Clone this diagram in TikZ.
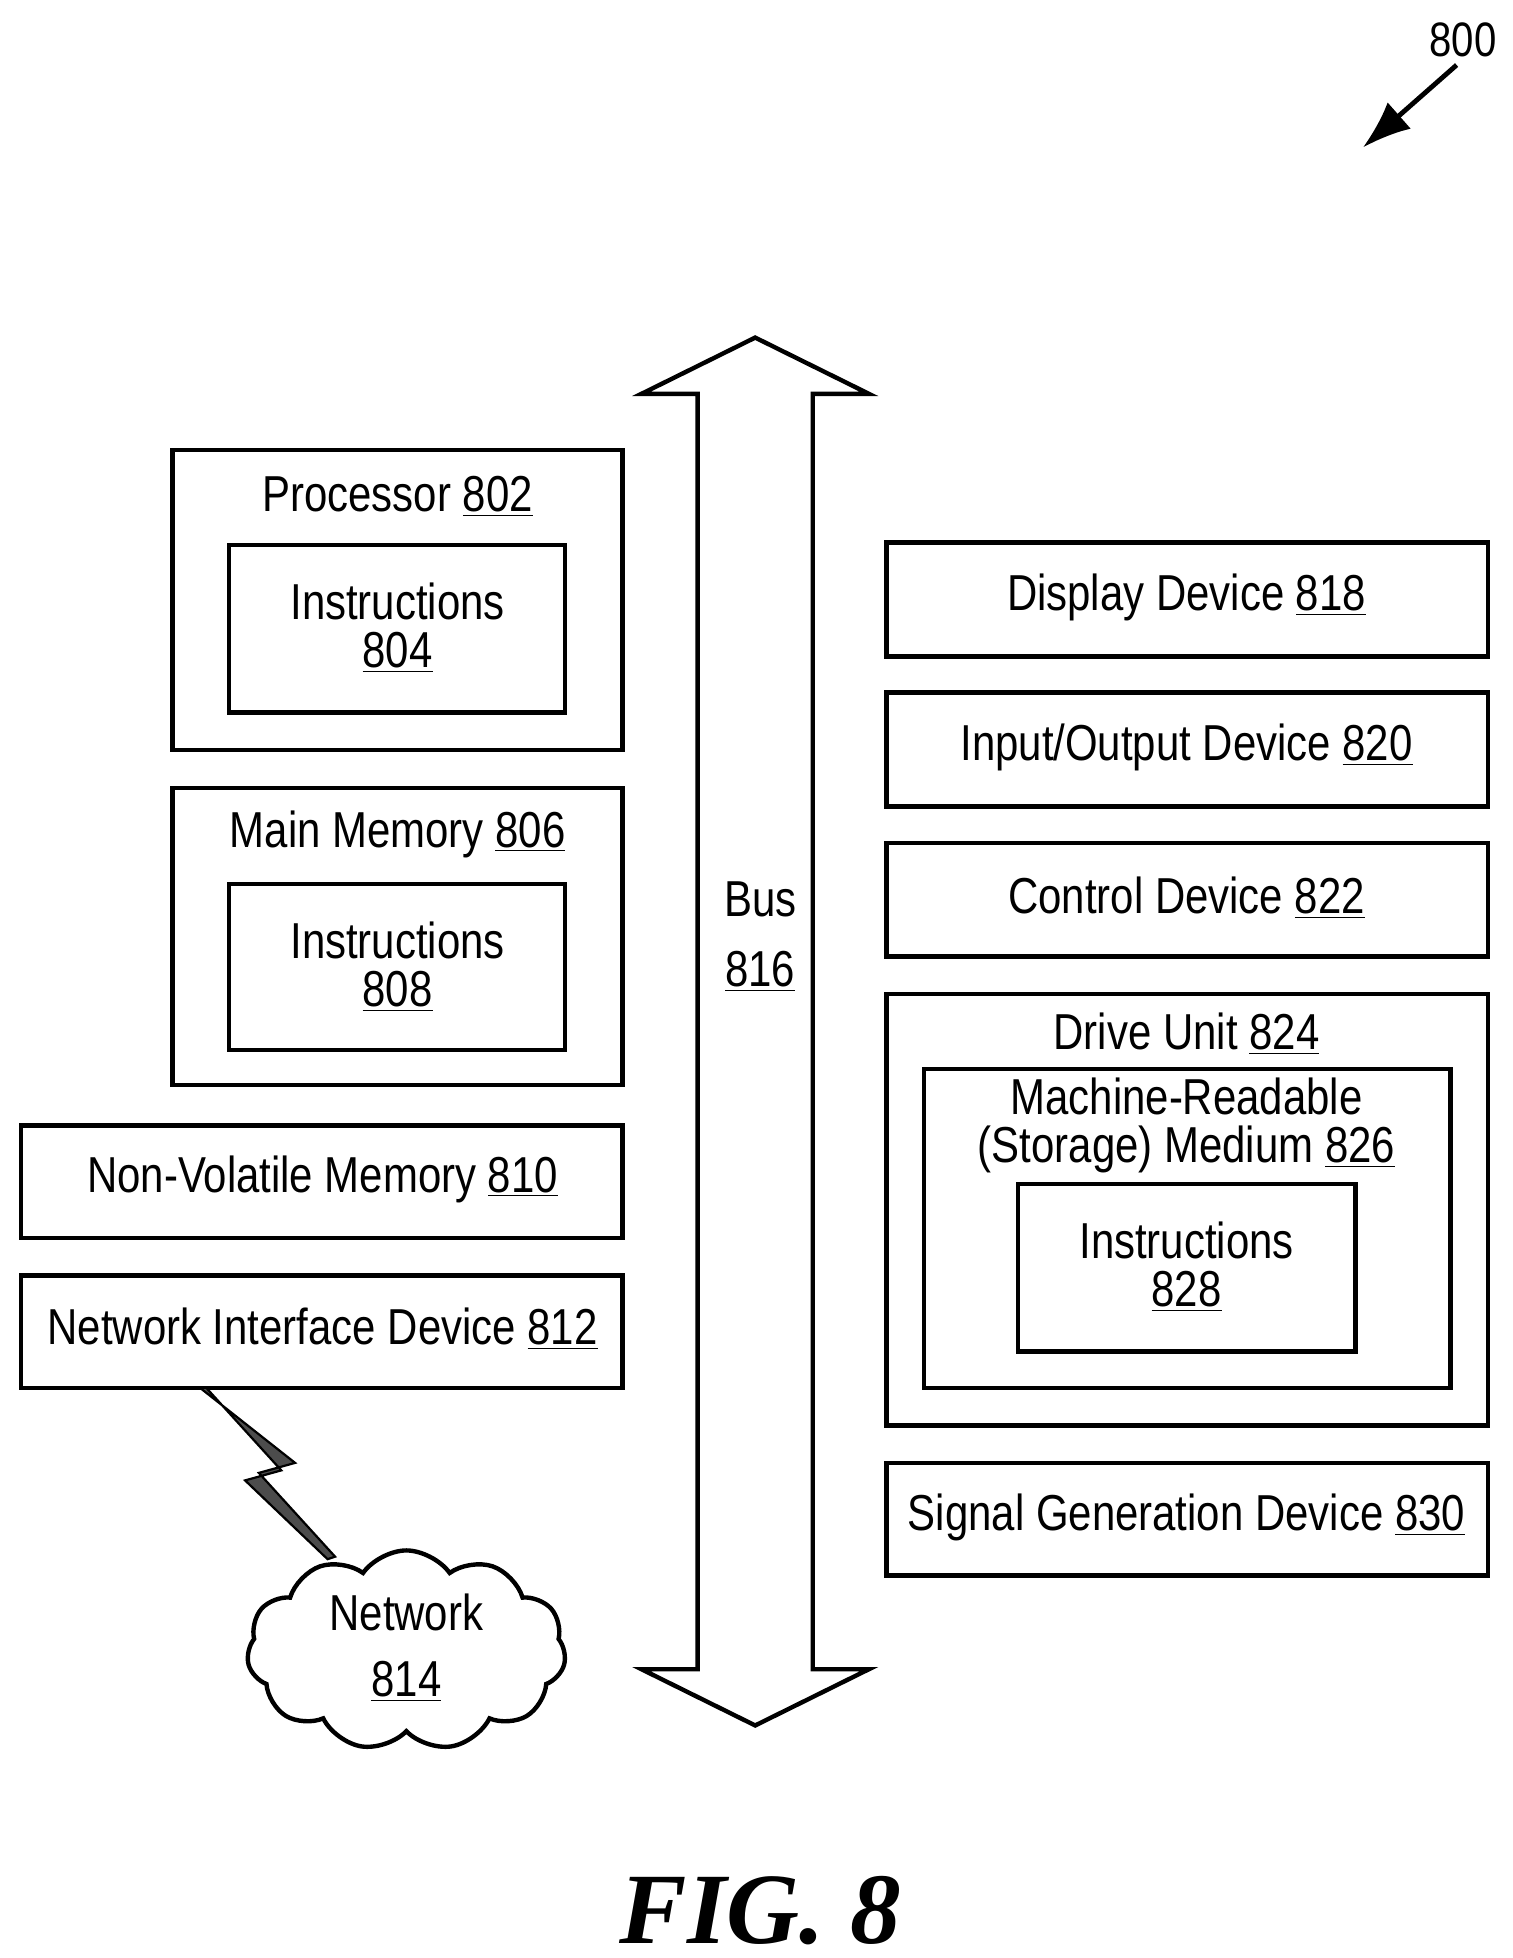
\documentclass[tikz,border=0pt]{standalone}
\usepackage{fontspec}
\setmainfont{Liberation Sans}[FakeStretch=0.83]
\newfontfamily\figfont{Liberation Serif}
\usetikzlibrary{shapes.symbols,arrows.meta}
\newcommand{\un}[1]{\underline{#1}}
\begin{document}
\begin{tikzpicture}[x=0.02cm,y=-0.02cm,
  box/.style={draw,line width=2pt},
  lbl/.style={font=\fontsize{23}{26}\selectfont,align=center,inner sep=0pt}]
\useasboundingbox (0,0) rectangle (1210,1566);
% left
\draw[box] (138,360) rectangle (498,600);
\draw[box] (183,436) rectangle (452,570);
\node[lbl] (p) at (318,397) {Processor \un{802}};
\node[lbl] (i1) at (318,502) {Instructions\\[-4pt]\un{804}};
\draw[box] (138,630) rectangle (498,868);
\draw[box] (183,707) rectangle (452,840);
\node[lbl] (m) at (318,667) {Main Memory \un{806}};
\node[lbl] (i2) at (318,773) {Instructions\\[-4pt]\un{808}};
\draw[box] (17,900) rectangle (498,990);
\node[lbl] (nv) at (258,943) {Non-Volatile Memory \un{810}};
\draw[box] (17,1020) rectangle (498,1110);
\node[lbl] (ni) at (258,1063) {Network Interface Device \un{812}};
% right
\draw[box] (709,434) rectangle (1190,525);
\node[lbl] (dd) at (949,478) {Display Device \un{818}};
\draw[box] (709,554) rectangle (1190,645);
\node[lbl] (io) at (949,598) {Input/Output Device \un{820}};
\draw[box] (709,674) rectangle (1190,765);
\node[lbl] (cd) at (949,718) {Control Device \un{822}};
\draw[box] (709,795) rectangle (1190,1140);
\draw[box] (739,855) rectangle (1160,1110);
\draw[box] (814,947) rectangle (1084,1081);
\node[lbl] (du) at (949,827) {Drive Unit \un{824}};
\node[lbl] (mr) at (949,900) {Machine-Readable\\[-4pt](Storage) Medium \un{826}};
\node[lbl] (i3) at (949,1013) {Instructions\\[-4pt]\un{828}};
\draw[box] (709,1170) rectangle (1190,1260);
\node[lbl] (sg) at (949,1214) {Signal Generation Device \un{830}};
% bus
\draw[line width=2pt,line join=miter] (604,270) -- (695,315) -- (650,315) -- (650,1335) -- (695,1335) -- (604,1380) -- (513,1335) -- (558,1335) -- (558,315) -- (513,315) -- cycle;
\node[lbl] (bus) at (608,749) {Bus\\[6pt]\un{816}};
% network
\node[cloud,draw,line width=2pt,cloud puffs=11,cloud puff arc=110,aspect=1.6,inner sep=0pt,minimum width=5.1cm,minimum height=3.2cm] (net) at (325,1320) {};
\node[lbl] at (325,1318) {Network\\[4pt]\un{814}};
\draw[line width=1pt,fill=black!70] (160,1110) -- (236,1170) -- (207,1178) -- (268,1245) -- (262,1247) -- (196,1184) -- (225,1176) -- (165,1110) -- cycle;
% 800
\node[font=\fontsize{22}{24}\selectfont] (n800) at (1170,32) {800};
\coordinate (a800) at (1090,118);
\draw[line width=2.2pt,-{Latex[length=22pt,width=16pt]}] (1165,52) -- (a800);
\node[font=\figfont\bfseries\itshape\fontsize{46}{50}\selectfont] (fig) at (608,1528) {FIG. 8};
\end{tikzpicture}
\end{document}
